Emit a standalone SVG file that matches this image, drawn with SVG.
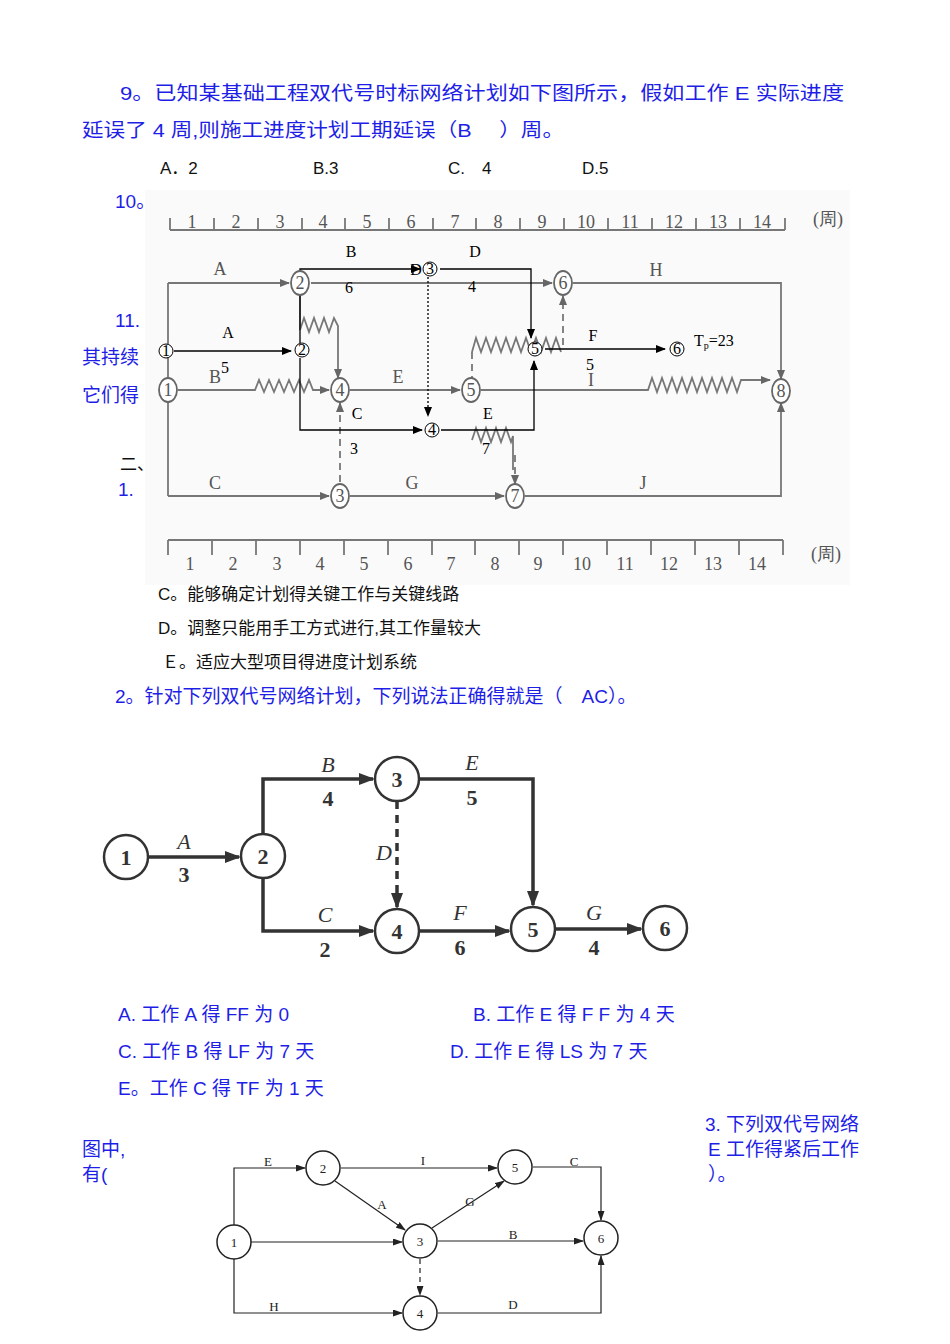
<svg xmlns="http://www.w3.org/2000/svg" width="950" height="1344" viewBox="0 0 950 1344">
<style>
.bt{font-family:"Liberation Sans","Noto Sans CJK SC",sans-serif;fill:#1e1ee6;font-size:19px}
.bk{font-family:"Liberation Sans","Noto Sans CJK SC",sans-serif;fill:#111;font-size:17px}
.g{stroke:#777;stroke-width:1.8;fill:none}
.gt{font-family:"Liberation Serif",serif;fill:#555;font-size:18px}
.k{stroke:#000;stroke-width:1.3;fill:none}
.kt{font-family:"Liberation Serif",serif;fill:#000;font-size:16px}
.gn{fill:#fff;stroke:#666;stroke-width:1.8}
.kn{fill:#fff;stroke:#000;stroke-width:1}
.n2{fill:#fff;stroke:#333;stroke-width:2.5}
.t2{font-family:"Liberation Serif",serif;font-size:22px;fill:#333;font-style:italic}
.t2n{font-family:"Liberation Serif",serif;font-size:22px;fill:#333;font-weight:bold}
.w2{stroke:#333;stroke-width:3.5;fill:none}
.n3{fill:#fff;stroke:#222;stroke-width:1.5}
.l3{stroke:#222;stroke-width:1.2;fill:none}
.t3{font-family:"Liberation Serif",serif;font-size:13px;fill:#222}
</style>
<defs>
<marker id="ag" markerWidth="10" markerHeight="8" refX="9" refY="4" orient="auto" markerUnits="userSpaceOnUse"><path d="M0,0L10,4L0,8z" fill="#666"/></marker>
<marker id="ak" markerWidth="10" markerHeight="8" refX="9" refY="4" orient="auto" markerUnits="userSpaceOnUse"><path d="M0,0L10,4L0,8z" fill="#000"/></marker>
<marker id="a2" markerWidth="16" markerHeight="12" refX="14" refY="6" orient="auto" markerUnits="userSpaceOnUse"><path d="M0,0L16,6L0,12z" fill="#333"/></marker>
<marker id="a3" markerWidth="10" markerHeight="7" refX="9" refY="3.5" orient="auto" markerUnits="userSpaceOnUse"><path d="M0,0L10,3.5L0,7z" fill="#222"/></marker>
</defs>
<rect width="950" height="1344" fill="#fff"/>
<rect x="145" y="190" width="705" height="395" fill="#fafafa"/>

<text class="bt" x="120" y="100" font-size="20" textLength="724" lengthAdjust="spacingAndGlyphs">9。已知某基础工程双代号时标网络计划如下图所示，假如工作 E 实际进度</text>
<text class="bt" x="82" y="137" font-size="20" textLength="482" lengthAdjust="spacingAndGlyphs">延误了 4 周,则施工进度计划工期延误（B　 ）周。</text>
<g class="bk" font-size="19"><text x="160" y="174">A．2</text><text x="313" y="174">B.3</text><text x="448" y="174">C.　4</text><text x="582" y="174">D.5</text></g>
<text class="bt" x="115" y="208" font-size="17">10。</text>
<text class="bt" x="115" y="327" font-size="17">11.</text>
<text class="bt" x="82" y="364" font-size="17">其持续</text>
<text class="bt" x="82" y="402" font-size="17">它们得</text>
<text class="bk" x="120" y="470" font-size="15">二、</text>
<text class="bt" x="118" y="496" font-size="17">1.</text>

<g id="scale-top">
<path class="g" d="M170,230H785M170,218V230M214,218V230M258,218V230M302,218V230M345,218V230M389,218V230M433,218V230M476,218V230M520,218V230M564,218V230M608,218V230M652,218V230M696,218V230M740,218V230M785,218V230"/>
<g class="gt" text-anchor="middle"><text x="192" y="228">1</text><text x="236" y="228">2</text><text x="280" y="228">3</text><text x="323" y="228">4</text><text x="367" y="228">5</text><text x="411" y="228">6</text><text x="455" y="228">7</text><text x="498" y="228">8</text><text x="542" y="228">9</text><text x="586" y="228">10</text><text x="630" y="228">11</text><text x="674" y="228">12</text><text x="718" y="228">13</text><text x="762" y="228">14</text><text x="828" y="225">(周)</text></g>
</g>
<g id="scale-bottom">
<path class="g" d="M168,540H783M168,540V555M212,540V555M256,540V555M300,540V555M344,540V555M388,540V555M432,540V555M475,540V555M519,540V555M563,540V555M607,540V555M651,540V555M695,540V555M739,540V555M783,540V555"/>
<g class="gt" text-anchor="middle"><text x="190" y="570">1</text><text x="233" y="570">2</text><text x="277" y="570">3</text><text x="320" y="570">4</text><text x="364" y="570">5</text><text x="408" y="570">6</text><text x="451" y="570">7</text><text x="495" y="570">8</text><text x="538" y="570">9</text><text x="582" y="570">10</text><text x="625" y="570">11</text><text x="669" y="570">12</text><text x="713" y="570">13</text><text x="757" y="570">14</text><text x="826" y="560">(周)</text></g>
</g>

<g id="connectors">
<path class="g" d="M168,283V378M168,402V496" />
<path class="g" d="M168,283H289" marker-end="url(#ag)"/>
<path class="g" d="M311,283H552" marker-end="url(#ag)"/>
<path class="g" d="M573,283H781V379" marker-end="url(#ag)"/>
<path class="g" d="M178,390H255l4,-10l5,12l5,-12l5,12l5,-12l5,12l5,-12l5,12l5,-12l5,12l5,-12l4,10H329" marker-end="url(#ag)"/>
<path class="g" d="M350,390H460" marker-end="url(#ag)"/>
<path class="g" d="M481,390H648l4,-12l5,14l5,-14l5,14l5,-14l5,14l5,-14l5,14l5,-14l5,14l5,-14l5,14l5,-14l5,14l5,-14l5,14l5,-14l5,14l4,-12H770" marker-end="url(#ag)"/>
<path class="g" d="M168,496H329" marker-end="url(#ag)"/>
<path class="g" d="M350,496H504" marker-end="url(#ag)"/>
<path class="g" d="M525,496H781V403" marker-end="url(#ag)"/>
<path class="g" d="M300,295V330l4,-12l5,14l5,-14l5,14l5,-14l5,14l5,-14l4,8V378" marker-end="url(#ag)"/>
<path class="g" stroke-dasharray="7,5" d="M340,482V403" marker-end="url(#ag)"/>
<path class="g" d="M472,352l4,-14l5,14l5,-14l5,14l5,-14l5,14l5,-14l5,14l5,-14l5,14l5,-14l5,14l5,-14l5,14l5,-14l5,14l5,-14l5,14"/>
<path class="g" stroke-dasharray="7,5" d="M472,352V378M563,345V296" marker-end="url(#ag)"/>
<path class="g" d="M472,440l4,-12l5,14l5,-14l5,14l5,-14l5,14l5,-14l5,14l2,-6V470"/>
<path class="g" stroke-dasharray="7,5" d="M515,455V484" marker-end="url(#ag)"/>

<path class="k" d="M174,351H291" marker-end="url(#ak)"/>
<path class="k" d="M300,343V269H420" marker-end="url(#ak)"/>
<path class="k" d="M300,358V430H422" marker-end="url(#ak)"/>
<path class="k" d="M440,269H531V338" marker-end="url(#ak)"/>
<path class="k" stroke-dasharray="2,2" d="M428,277V416" marker-end="url(#ak)"/>
<path class="k" d="M441,430H534V361" marker-end="url(#ak)"/>
<path class="k" d="M545,349H665" marker-end="url(#ak)"/>
</g>

<g id="gray-labels" class="gt" text-anchor="middle">
<text x="220" y="275">A</text><text x="656" y="276">H</text><text x="215" y="383">B</text><text x="398" y="383">E</text><text x="591" y="386">I</text><text x="215" y="489">C</text><text x="412" y="489">G</text><text x="643" y="489">J</text>
</g>
<g id="black-labels" class="kt" text-anchor="middle">
<text x="351" y="257">B</text><text x="349" y="293">6</text><text x="475" y="257">D</text><text x="472" y="292">4</text><text x="416" y="275">D</text>
<text x="228" y="338">A</text><text x="225" y="373">5</text><text x="357" y="419">C</text><text x="354" y="454">3</text><text x="488" y="419">E</text><text x="486" y="454">7</text>
<text x="593" y="341">F</text><text x="590" y="370">5</text>
<text x="694" y="346" text-anchor="start">T<tspan font-size="10" dy="3">p</tspan><tspan dy="-3">=23</tspan></text>
</g>

<g id="g1"><ellipse class="gn" cx="168" cy="390" rx="9" ry="12"/><text class="gt" x="168" y="396" text-anchor="middle" font-size="16">1</text></g>
<g id="g2"><ellipse class="gn" cx="300" cy="283" rx="9" ry="12"/><text class="gt" x="300" y="289" text-anchor="middle" font-size="16">2</text></g>
<g id="g6"><ellipse class="gn" cx="563" cy="283" rx="9" ry="12"/><text class="gt" x="563" y="289" text-anchor="middle" font-size="16">6</text></g>
<g id="g4"><ellipse class="gn" cx="340" cy="390" rx="9" ry="12"/><text class="gt" x="340" y="396" text-anchor="middle" font-size="16">4</text></g>
<g id="g5"><ellipse class="gn" cx="471" cy="390" rx="9" ry="12"/><text class="gt" x="471" y="396" text-anchor="middle" font-size="16">5</text></g>
<g id="g8"><ellipse class="gn" cx="781" cy="391" rx="9" ry="12"/><text class="gt" x="781" y="397" text-anchor="middle" font-size="16">8</text></g>
<g id="g3"><ellipse class="gn" cx="340" cy="496" rx="9" ry="12"/><text class="gt" x="340" y="502" text-anchor="middle" font-size="16">3</text></g>
<g id="g7"><ellipse class="gn" cx="515" cy="496" rx="9" ry="12"/><text class="gt" x="515" y="502" text-anchor="middle" font-size="16">7</text></g>

<g id="k1"><circle class="kn" cx="166" cy="351" r="7"/><text class="kt" x="166" y="356" text-anchor="middle" font-size="12">1</text></g>
<g id="k2"><circle class="kn" cx="302" cy="350" r="7"/><text class="kt" x="302" y="355" text-anchor="middle" font-size="12">2</text></g>
<g id="k3"><circle class="kn" cx="430" cy="269" r="7"/><text class="kt" x="430" y="274" text-anchor="middle" font-size="12">3</text></g>
<g id="k4"><circle class="kn" cx="432" cy="430" r="7"/><text class="kt" x="432" y="435" text-anchor="middle" font-size="12">4</text></g>
<g id="k5"><circle class="kn" cx="535" cy="349" r="7"/><text class="kt" x="535" y="354" text-anchor="middle" font-size="12">5</text></g>
<g id="k6"><circle class="kn" cx="677" cy="349" r="7"/><text class="kt" x="677" y="354" text-anchor="middle" font-size="12">6</text></g>

<text class="bk" x="158" y="600" font-size="16">C。能够确定计划得关键工作与关键线路</text>
<text class="bk" x="158" y="634">D。调整只能用手工方式进行,其工作量较大</text>
<text class="bk" x="162" y="668">Ｅ。适应大型项目得进度计划系统</text>
<text class="bt" x="115" y="703" font-size="18">2。针对下列双代号网络计划，下列说法正确得就是（　AC）。</text>

<g id="net2-connectors">
<path class="w2" d="M149,857H239" marker-end="url(#a2)"/>
<path class="w2" d="M263,834V779H373" marker-end="url(#a2)"/>
<path class="w2" d="M263,878V931H373" marker-end="url(#a2)"/>
<path class="w2" d="M420,779H533V905" marker-end="url(#a2)"/>
<path class="w2" stroke-dasharray="8,6" stroke-width="2.5" d="M397,801V907" marker-end="url(#a2)"/>
<path class="w2" d="M420,931H509" marker-end="url(#a2)"/>
<path class="w2" d="M556,929H641" marker-end="url(#a2)"/>
</g>
<g class="t2" text-anchor="middle">
<text x="184" y="849">A</text>
<text x="328" y="772">B</text>
<text x="472" y="770">E</text>
<text x="384" y="860">D</text>
<text x="325" y="922">C</text>
<text x="460" y="920">F</text>
<text x="594" y="920">G</text>
</g>
<g class="t2n" text-anchor="middle">
<text x="184" y="882">3</text><text x="328" y="806">4</text><text x="472" y="805">5</text><text x="325" y="957">2</text><text x="460" y="955">6</text><text x="594" y="955">4</text>
</g>
<g id="n2-1"><circle class="n2" cx="126" cy="857" r="22"/><text class="t2n" x="126" y="865" text-anchor="middle">1</text></g>
<g id="n2-2"><circle class="n2" cx="263" cy="856" r="22"/><text class="t2n" x="263" y="864" text-anchor="middle">2</text></g>
<g id="n2-3"><circle class="n2" cx="397" cy="779" r="22"/><text class="t2n" x="397" y="787" text-anchor="middle">3</text></g>
<g id="n2-4"><circle class="n2" cx="397" cy="931" r="22"/><text class="t2n" x="397" y="939" text-anchor="middle">4</text></g>
<g id="n2-5"><circle class="n2" cx="533" cy="929" r="22"/><text class="t2n" x="533" y="937" text-anchor="middle">5</text></g>
<g id="n2-6"><circle class="n2" cx="665" cy="928" r="22"/><text class="t2n" x="665" y="936" text-anchor="middle">6</text></g>

<text class="bt" x="118" y="1021" font-size="18">A.  工作 A 得 FF 为 0</text>
<text class="bt" x="473" y="1021" font-size="18">B. 工作 E 得 F F 为 4 天</text>
<text class="bt" x="118" y="1058" font-size="18">C. 工作 B 得 LF 为 7 天</text>
<text class="bt" x="450" y="1058" font-size="18">D. 工作 E 得 LS 为 7 天</text>
<text class="bt" x="118" y="1095" font-size="18">E。工作 C 得 TF 为 1 天</text>
<text class="bt" x="705" y="1131" font-size="18">3. 下列双代号网络</text>
<text class="bt" x="708" y="1156" font-size="18">E 工作得紧后工作</text>
<text class="bt" x="708" y="1181" font-size="18">）。</text>
<text class="bt" x="82" y="1156" font-size="18">图中,</text>
<text class="bt" x="82" y="1181" font-size="18">有(</text>

<g id="net3-connectors">
<path class="l3" d="M234,1225V1168H305" marker-end="url(#a3)"/>
<path class="l3" d="M341,1168H497" marker-end="url(#a3)"/>
<path class="l3" d="M533,1167H601V1220" marker-end="url(#a3)"/>
<path class="l3" d="M335,1181L405,1230" marker-end="url(#a3)"/>
<path class="l3" d="M432,1228L504,1181" marker-end="url(#a3)"/>
<path class="l3" d="M251,1242H402" marker-end="url(#a3)"/>
<path class="l3" d="M438,1241H583" marker-end="url(#a3)"/>
<path class="l3" stroke-dasharray="5,4" d="M420,1259V1295" marker-end="url(#a3)"/>
<path class="l3" d="M234,1259V1313H402" marker-end="url(#a3)"/>
<path class="l3" d="M438,1313H601V1256" marker-end="url(#a3)"/>
</g>
<g class="t3" text-anchor="middle">
<text x="268" y="1166">E</text><text x="423" y="1165">I</text><text x="574" y="1166">C</text><text x="382" y="1209">A</text><text x="470" y="1206">G</text><text x="513" y="1239">B</text><text x="274" y="1311">H</text><text x="513" y="1309">D</text>
</g>
<g id="n3-1"><circle class="n3" cx="234" cy="1242" r="17"/><text class="t3" x="234" y="1247" text-anchor="middle">1</text></g>
<g id="n3-2"><circle class="n3" cx="323" cy="1168" r="17"/><text class="t3" x="323" y="1173" text-anchor="middle">2</text></g>
<g id="n3-3"><circle class="n3" cx="420" cy="1241" r="17"/><text class="t3" x="420" y="1246" text-anchor="middle">3</text></g>
<g id="n3-4"><circle class="n3" cx="420" cy="1313" r="17"/><text class="t3" x="420" y="1318" text-anchor="middle">4</text></g>
<g id="n3-5"><circle class="n3" cx="515" cy="1167" r="17"/><text class="t3" x="515" y="1172" text-anchor="middle">5</text></g>
<g id="n3-6"><circle class="n3" cx="601" cy="1238" r="17"/><text class="t3" x="601" y="1243" text-anchor="middle">6</text></g>
</svg>
